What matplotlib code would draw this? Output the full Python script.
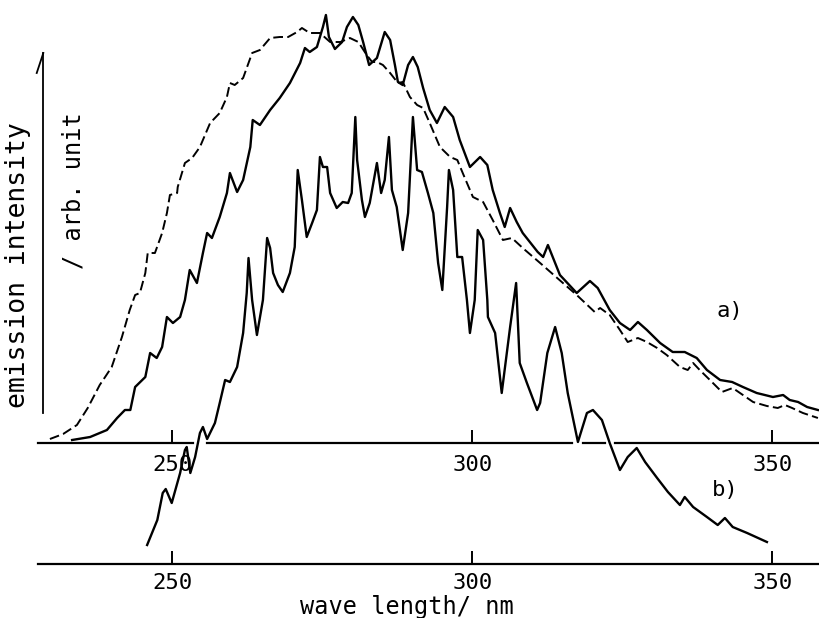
import matplotlib
matplotlib.use('Agg')
from matplotlib import pyplot as plt

plt.rcParams['font.family'] = ['DejaVu Sans Mono', 'DejaVu Sans']

# spectrum a), dashed trace (nm, arb. unit above upper baseline)
dash_nm = [229.6, 231.8, 234.1, 235.9, 237.9, 238.8, 239.9, 241.6, 242.9, 243.8,
           244.6, 245.5, 245.9, 247.1, 248.3, 249.1, 249.6, 250.8, 250.9, 252.1,
           253.3, 254.6, 256.3, 257.9, 259.1, 259.6, 260.4, 261.8, 263.3, 264.6,
           266.3, 267.9, 269.3, 270.8, 271.6, 272.9, 274.6, 276.3, 278.0, 279.6,
           281.0, 282.4, 283.3, 284.1, 285.1, 286.3, 287.6, 288.4, 289.6, 290.8,
           291.8, 292.9, 294.6, 296.3, 297.5, 298.4, 300.1, 301.8, 303.4, 305.1,
           306.6, 308.4, 311.3, 315.1, 317.4, 320.4, 321.3, 322.9, 324.6, 325.9,
           327.6, 329.1, 330.8, 332.4, 334.6, 335.9, 336.8, 337.9, 339.6, 341.6,
           343.4, 345.1, 346.8, 349.1, 350.9, 352.1, 353.3, 355.1, 357.6]
dash_int = [4, 9, 18, 35, 58, 66, 76, 106, 133, 148,
            150, 170, 190, 190, 210, 230, 248, 250, 256, 280,
            285, 296, 320, 330, 346, 360, 358, 365, 390, 393,
            405, 406, 406, 411, 415, 410, 410, 401, 401, 405,
            401, 388, 381, 381, 378, 370, 360, 361, 346, 338,
            335, 320, 296, 286, 283, 270, 246, 241, 223, 203,
            205, 195, 180, 160, 148, 131, 135, 128, 113, 101,
            105, 101, 95, 88, 76, 73, 80, 73, 63, 51,
            55, 48, 41, 37, 35, 38, 35, 30, 25]

# spectrum a), solid trace
sol_nm = [233.3, 236.3, 239.1, 240.8, 242.1, 243.0, 243.8, 245.5, 246.3, 247.4,
          248.3, 249.1, 250.1, 251.3, 252.1, 252.9, 254.1, 255.1, 255.8, 256.6,
          257.9, 259.1, 259.6, 260.8, 261.8, 263.0, 263.4, 264.6, 266.3, 267.9,
          269.6, 271.3, 272.1, 272.9, 274.1, 275.1, 275.6, 276.1, 277.1, 278.3,
          279.1, 280.1, 281.0, 281.8, 282.8, 284.1, 285.4, 286.3, 287.1, 287.6,
          288.4, 289.3, 290.1, 290.9, 291.8, 292.9, 294.1, 295.4, 296.8, 297.9,
          299.6, 301.3, 302.5, 303.4, 304.6, 305.4, 306.3, 307.4, 308.4, 310.9,
          311.8, 312.6, 314.6, 317.4, 319.6, 320.9, 322.9, 324.6, 326.3, 327.6,
          329.1, 331.3, 333.4, 335.4, 337.4, 339.1, 341.3, 343.3, 345.1, 347.4,
          350.1, 351.8, 352.9, 354.3, 355.8, 357.6]
sol_int = [3, 6, 13, 25, 33, 33, 56, 66, 90, 85,
           96, 126, 120, 126, 143, 173, 160, 190, 210, 205,
           226, 250, 270, 251, 263, 296, 323, 318, 333, 345,
           360, 380, 395, 391, 396, 416, 428, 406, 394, 401,
           416, 426, 418, 401, 378, 385, 411, 403, 378, 361,
           358, 378, 386, 376, 355, 333, 320, 336, 326, 303,
           276, 286, 278, 253, 230, 216, 235, 221, 210, 191,
           186, 198, 168, 150, 162, 155, 133, 120, 113, 121,
           113, 100, 91, 91, 85, 73, 63, 61, 56, 50,
           46, 48, 43, 41, 36, 33]

# spectrum b), above lower baseline
b_nm = [245.8, 247.5, 248.4, 248.9, 249.9, 251.3, 252.1, 252.4, 253.0, 253.8,
        254.6, 255.1, 255.8, 257.1, 257.9, 258.8, 259.6, 260.8, 261.8, 262.4,
        262.7, 263.3, 264.1, 265.1, 265.8, 266.3, 266.8, 267.6, 268.4, 269.6,
        270.4, 270.9, 271.6, 272.4, 273.3, 274.1, 274.6, 275.1, 275.8, 276.3,
        277.4, 278.4, 279.3, 279.9, 280.5, 280.8, 281.6, 282.1, 282.9, 284.1,
        284.8, 285.4, 286.1, 286.6, 287.4, 288.4, 289.3, 290.1, 290.8, 291.6,
        292.6, 293.5, 294.3, 295.0, 295.8, 296.1, 296.8, 297.5, 298.3, 299.1,
        299.6, 300.4, 300.9, 301.8, 302.5, 302.6, 303.8, 304.9, 306.3, 307.3,
        307.9, 309.1, 310.8, 311.3, 312.5, 313.8, 314.9, 315.9, 317.6, 319.1,
        320.1, 321.6, 322.9, 324.6, 325.9, 327.4, 328.8, 330.8, 332.6, 334.6,
        335.4, 336.8, 339.1, 340.9, 342.1, 343.4, 345.8, 349.1]
b_int = [19, 44, 71, 75, 61, 91, 114, 117, 91, 107,
         131, 137, 125, 141, 161, 184, 182, 197, 231, 271,
         306, 264, 229, 264, 326, 316, 291, 279, 272, 291,
         317, 394, 364, 327, 341, 354, 407, 397, 397, 371,
         356, 362, 361, 371, 447, 404, 364, 347, 361, 401,
         371, 384, 427, 374, 357, 314, 351, 447, 394, 392,
         371, 351, 301, 274, 357, 394, 374, 307, 307, 264,
         231, 264, 334, 324, 264, 247, 231, 171, 237, 281,
         201, 181, 154, 161, 211, 237, 211, 171, 122, 151,
         154, 144, 121, 94, 107, 116, 102, 86, 72, 59,
         67, 57, 47, 39, 46, 37, 31, 22]

b_offset = -121
ticks = [250, 300, 350]
top_axis_parts = [(227.6, 253.4), (255.8, 316.6), (318.5, 322.1), (323.8, 357.8)]

fig = plt.figure(figsize=(8.19, 6.18), dpi=100)
ax = fig.add_axes([0, 0, 1, 1])
ax.set_xlim(221.28, 357.78)
ax.set_ylim(-175, 443)
ax.axis('off')

ax.plot(dash_nm, dash_int, color='black', lw=1.4, dashes=(5, 2.2))
ax.plot(sol_nm, sol_int, color='black', lw=1.7)
ax.plot(b_nm, [v + b_offset for v in b_int], color='black', lw=1.7)

# upper baseline (broken where b crosses) and lower baseline
for x0, x1 in top_axis_parts:
    ax.plot([x0, x1], [0, 0], color='black', lw=1.6)
ax.plot([227.6, 357.8], [b_offset, b_offset], color='black', lw=1.6)
ax.vlines(ticks, 0, 13, color='black', lw=1.4)
ax.vlines(ticks, b_offset, b_offset + 13, color='black', lw=1.4)
for t in ticks:
    ax.text(t, -22, str(t), ha='center', va='center', fontsize=16)
    ax.text(t, b_offset - 19, str(t), ha='center', va='center', fontsize=16)

# intensity arrow
ax.plot([228.5, 228.5], [30, 390], color='black', lw=1.3)
ax.plot([228.5, 227.4], [390, 370], color='black', lw=1.3)

ax.text(224.3, 178, 'emission intensity', rotation=90, ha='center', va='center', fontsize=19)
ax.text(233.45, 252, '/ arb. unit', rotation=90, ha='center', va='center', fontsize=17)
ax.text(289.1, -164, 'wave length/ nm', ha='center', va='center', fontsize=17)
ax.text(343.0, 132, 'a)', ha='center', va='center', fontsize=16)
ax.text(342.1, -47, 'b)', ha='center', va='center', fontsize=16)

plt.savefig('out.png', dpi=100)
